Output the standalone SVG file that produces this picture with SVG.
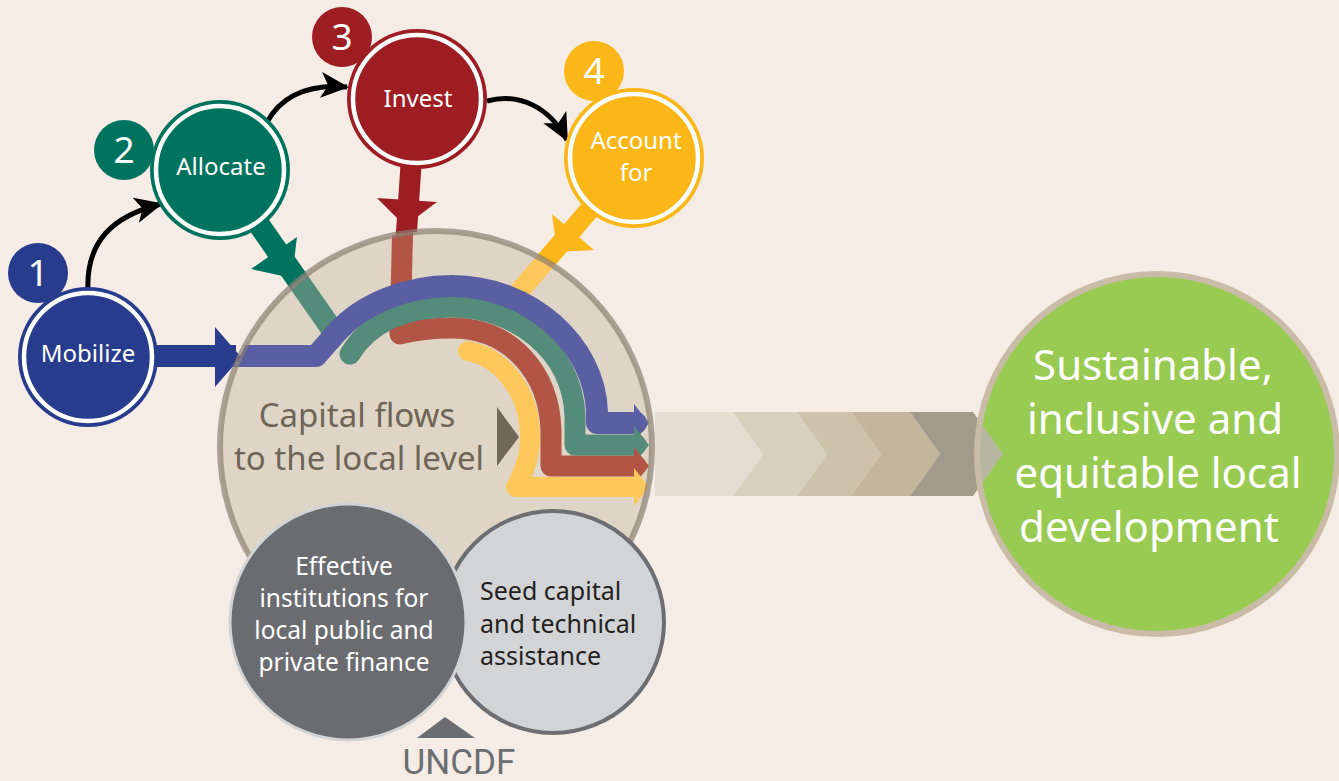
<svg xmlns="http://www.w3.org/2000/svg" width="1339" height="781" viewBox="0 0 1339 781">
  <style>
    .lbl { font-family: "Noto Sans", "Open Sans", sans-serif; fill: #ffffff; text-anchor: middle; }
    .node-label { font-size: 24px; }
    .badge-num { font-size: 37px; }
    .flow { fill: none; stroke-linecap: round; stroke-linejoin: round; }
    .ring { fill: none; stroke: #ffffff; stroke-width: 4.5; }
    .step { fill: none; stroke: #000000; stroke-width: 5; marker-end: url(#head); }
  </style>
  <defs>
    <marker id="head" viewBox="0 0 28 28" markerWidth="28" markerHeight="28" refX="26" refY="14" orient="auto" markerUnits="userSpaceOnUse">
      <path d="M0,1 L28,14 L0,27 L7,14 z" fill="#000000"/>
    </marker>
    <clipPath id="hub-clip">
      <circle cx="436" cy="447" r="216"/>
    </clipPath>
    <clipPath id="goal-clip">
      <circle cx="1157" cy="454" r="180"/>
    </clipPath>
  </defs>

  <!-- background -->
  <rect x="0" y="0" width="1339" height="781" fill="#f6ece6"/>

  <!-- chevron band leading to the outcome -->
  <g id="progress-band">
    <polygon points="655,412 733,412 763,454 733,496 655,496" fill="#e4ddd1"/>
    <polygon points="733,412 797,412 827,454 797,496 733,496 763,454" fill="#d8d0be"/>
    <polygon points="797,412 851,412 881,454 851,496 797,496 827,454" fill="#cdc3ad"/>
    <polygon points="851,412 910,412 940,454 910,496 851,496 881,454" fill="#c2b69c"/>
    <polygon points="910,412 973,412 1003,454 973,496 910,496 940,454" fill="#a29b8c"/>
  </g>

  <!-- outcome circle -->
  <g id="outcome">
    <circle cx="1157" cy="454" r="180" fill="#99cb52"/>
    <polygon clip-path="url(#goal-clip)" points="940,412 973,412 1003,454 973,496 940,496" fill="#b7b6a1"/>
    <circle cx="1157" cy="454" r="180" fill="none" stroke="#c8bba7" stroke-width="6"/>
    <text class="lbl" font-size="42" x="1153" y="380">Sustainable,</text>
    <text class="lbl" font-size="42" x="1155" y="434">inclusive and</text>
    <text class="lbl" font-size="42" x="1158" y="488">equitable local</text>
    <text class="lbl" font-size="42" x="1149" y="542">development</text>
  </g>

  <g id="connectors">
    <!-- stems from each step into the hub (solid part outside the hub) -->
    <g id="stems-outer">
      <path d="M157 356 H236" stroke="#283c8e" stroke-width="22" fill="none"/>
      <polygon points="215,327 241,357 215,387" fill="#283c8e"/>
      <path d="M255 219 L338 338" stroke="#00735f" stroke-width="22" fill="none"/>
      <polygon points="251,269 297,237 292,278" fill="#00735f"/>
      <path d="M411 165 L402 300" stroke="#9e1d22" stroke-width="21" fill="none"/>
      <polygon points="377,198 437,202 405,226" fill="#9e1d22"/>
      <path d="M592 207 L512 300" stroke="#fbb717" stroke-width="20" fill="none"/>
      <polygon points="552,214 594,250 557,252" fill="#fbb717"/>
    </g>

    <!-- hub: capital flows to the local level -->
    <circle id="hub-fill" cx="436" cy="447" r="216" fill="#ded5c6"/>

    <g id="flows-inner" clip-path="url(#hub-clip)">
      <!-- stems where they run inside the hub -->
      <path d="M157 356 H236" stroke="#5a5ea2" stroke-width="22" fill="none"/>
      <path d="M255 219 L338 338" stroke="#558b7a" stroke-width="22" fill="none"/>
      <path d="M592 207 L512 300" stroke="#fec75a" stroke-width="20" fill="none"/>

      <!-- the four capital flows -->
      <path class="flow" d="M468 351 C500 357 530 390 530 437 C530 460 522 475 516 487 L636 487" stroke="#fec75a" stroke-width="20"/>
      <path class="flow" d="M403 215 L400 334 C418 329 433 328 452 328 C510 328 549 372 551 430 L551 466 L636 466" stroke="#b25545" stroke-width="21"/>
      <path class="flow" d="M350 354 C372 318 412 307 452 307 C515 307 572 350 575 415 L575 445 L636 445" stroke="#558b7a" stroke-width="21"/>
      <path class="flow" d="M236 356 L316 356 L338 331 C362 305 405 286 452 286 C530 286 595 345 597 412 L597 423 L636 423" stroke="#5a5ea2" stroke-width="22" stroke-linecap="butt" stroke-linejoin="miter"/>
      <polygon points="215,327 241,357 215,387" fill="#34438f"/>

      <!-- flow arrowheads -->
      <polygon points="634,404 649,423 634,442" fill="#5a5ea2"/>
      <polygon points="634,426 649,445 634,464" fill="#558b7a"/>
      <polygon points="634,447 649,466 634,485" fill="#b25545"/>
      <polygon points="634,468 649,487 634,506" fill="#fec75a"/>
    </g>

    <!-- hub outline -->
    <circle cx="436" cy="447" r="216" fill="none" stroke="#8c8073" stroke-opacity="0.7" stroke-width="6"/>

    <!-- step-to-step arrows -->
    <path class="step" d="M88 290 C86 242 112 216 161 204"/>
    <path class="step" d="M267 122 C282 95 310 84 347 87"/>
    <path class="step" d="M487 101 C520 92 550 108 567 140"/>
  </g>

  <g id="hub-label">
    <text x="357" y="427" font-family="'Noto Sans', 'Open Sans', sans-serif" font-size="33" fill="#6e6558" text-anchor="middle">Capital flows</text>
    <text x="359" y="470" font-family="'Noto Sans', 'Open Sans', sans-serif" font-size="33" fill="#6e6558" text-anchor="middle">to the local level</text>
    <polygon points="497,407 519,437 497,466" fill="#72685a"/>
  </g>

  <!-- step 1 -->
  <g id="mobilize">
    <circle cx="38" cy="273" r="30" fill="#283c8e"/>
    <text class="lbl badge-num" x="38" y="286">1</text>
    <circle cx="88" cy="357" r="70" fill="#283c8e"/>
    <circle class="ring" cx="88" cy="357" r="64"/>
    <text class="lbl node-label" x="88" y="362">Mobilize</text>
  </g>

  <!-- step 2 -->
  <g id="allocate">
    <circle cx="124" cy="150" r="30" fill="#00735f"/>
    <text class="lbl badge-num" x="124" y="163">2</text>
    <circle cx="220" cy="170" r="70" fill="#00735f"/>
    <circle class="ring" cx="220" cy="170" r="64"/>
    <text class="lbl node-label" x="221" y="175">Allocate</text>
  </g>

  <!-- step 3 -->
  <g id="invest">
    <circle cx="342" cy="37" r="30" fill="#9e1d22"/>
    <text class="lbl badge-num" x="342" y="50">3</text>
    <circle cx="417" cy="99" r="70" fill="#9e1d22"/>
    <circle class="ring" cx="417" cy="99" r="64"/>
    <text class="lbl node-label" x="418" y="107">Invest</text>
  </g>

  <!-- step 4 -->
  <g id="account-for">
    <circle cx="594" cy="71" r="30" fill="#fbb717"/>
    <text class="lbl badge-num" x="594" y="84">4</text>
    <circle cx="634" cy="158" r="70" fill="#fbb717"/>
    <circle class="ring" cx="634" cy="158" r="64"/>
    <text class="lbl node-label" x="636" y="149">Account</text>
    <text class="lbl node-label" x="636" y="181">for</text>
  </g>

  <!-- support circles -->
  <g id="seed-capital">
    <circle cx="553" cy="622" r="111" fill="#d3d4d6" stroke="#6d6e71" stroke-width="4"/>
    <text x="480" y="600" font-family="'Noto Sans', 'Open Sans', sans-serif" font-size="25" fill="#231f20">Seed capital</text>
    <text x="480" y="633" font-family="'Noto Sans', 'Open Sans', sans-serif" font-size="25" fill="#231f20">and technical</text>
    <text x="480" y="665" font-family="'Noto Sans', 'Open Sans', sans-serif" font-size="25" fill="#231f20">assistance</text>
  </g>

  <g id="institutions">
    <circle cx="348" cy="622" r="118" fill="#6b6c70" stroke="#d1d3d4" stroke-width="3"/>
    <text class="lbl" font-size="24.5" x="344" y="575">Effective</text>
    <text class="lbl" font-size="24.5" x="344" y="607">institutions for</text>
    <text class="lbl" font-size="24.5" x="344" y="639">local public and</text>
    <text class="lbl" font-size="24.5" x="344" y="671">private finance</text>
  </g>

  <g id="uncdf">
    <polygon points="417,738 445,717 475,738" fill="#6d6e71"/>
    <text x="459" y="774" font-family="Roboto, 'Liberation Sans', sans-serif" font-size="35" fill="#6d6e71" text-anchor="middle">UNCDF</text>
  </g>
</svg>
